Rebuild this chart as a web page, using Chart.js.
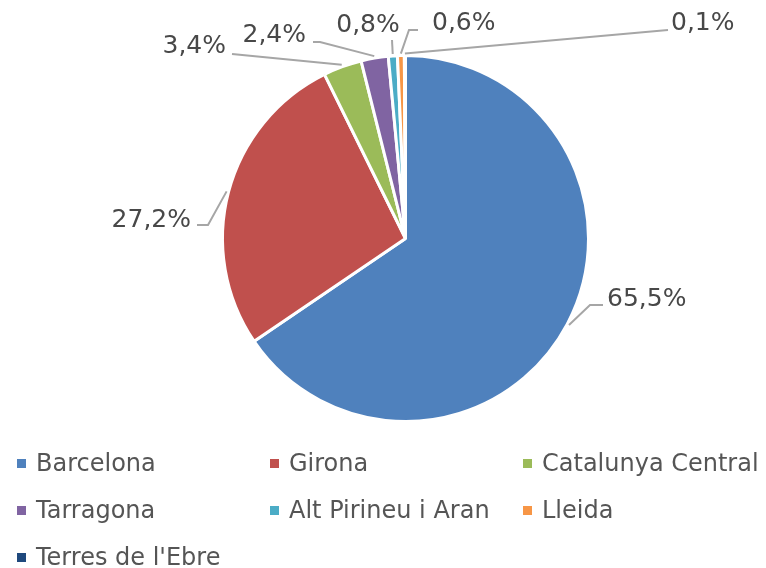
<!DOCTYPE html>
<html>
<head>
<meta charset="utf-8">
<script src="https://cdn.jsdelivr.net/npm/chart.js@4.4.1/dist/chart.umd.min.js"></script>
<style>
  html, body { margin: 0; padding: 0; background: #fff; }
  #wrap { position: relative; width: 766px; height: 568px; }
  #pie { position: absolute; left: 0; top: 0; }
  .legend-item {
    position: absolute; height: 30px; line-height: 30px;
    font: 24px "DejaVu Sans", Verdana, sans-serif; color: #555555;
    white-space: nowrap; display: flex; align-items: center;
  }
  .legend-item span.box { width: 9px; height: 9px; margin-right: 10px; display: inline-block; }
</style>
</head>
<body>
<div id="wrap">
  <canvas id="pie" width="766" height="568"></canvas>
  <div id="legend"></div>
</div>
<script>
const regions = ['Barcelona', 'Girona', 'Catalunya Central', 'Tarragona', 'Alt Pirineu i Aran', 'Lleida', "Terres de l'Ebre"];
const shares = [65.5, 27.2, 3.4, 2.4, 0.8, 0.6, 0.1];
const colors = ['#4F81BD', '#C0504D', '#9BBB59', '#8064A2', '#4BACC6', '#F79646', '#1F497D'];

// where each percentage label sits and the bend points of its leader line
const labelLayout = [
  {x: 607, y: 306, align: 'left',   path: [[590, 305], [603, 305]]},
  {x: 191, y: 227, align: 'right',  path: [[208, 225], [197, 225]]},
  {x: 226, y: 53,  align: 'right',  path: [[232, 54]]},
  {x: 306, y: 42,  align: 'right',  path: [[320, 42], [313, 42]]},
  {x: 368, y: 32,  align: 'center', path: [[392, 40]]},
  {x: 432, y: 30,  align: 'left',   path: [[409, 30], [418, 30]]},
  {x: 671, y: 30,  align: 'left',   path: [[668, 30]]}
];

function fmt(v){
  return v.toFixed(1).replace('.', ',') + '%';
}

const pieLabels = {
  id: 'pieLabels',
  afterDraw(chart){
    const ctx = chart.ctx;
    const arcs = chart.getDatasetMeta(0).data;
    ctx.save();
    ctx.strokeStyle = '#A6A6A6';
    ctx.lineWidth = 2;
    ctx.font = '25px "DejaVu Sans", Verdana, sans-serif';
    ctx.fillStyle = '#484848';
    ctx.textBaseline = 'alphabetic';
    arcs.forEach((arc, i) => {
      const lay = labelLayout[i];
      const mid = (arc.startAngle + arc.endAngle) / 2;
      const r = arc.outerRadius + 2;
      ctx.beginPath();
      ctx.moveTo(arc.x + Math.cos(mid) * r, arc.y + Math.sin(mid) * r);
      lay.path.forEach(p => ctx.lineTo(p[0], p[1]));
      ctx.stroke();
      ctx.textAlign = lay.align;
      ctx.fillText(fmt(shares[i]), lay.x, lay.y);
    });
    ctx.restore();
  }
};

new Chart(document.getElementById('pie'), {
  type: 'pie',
  data: {
    labels: regions,
    datasets: [{
      data: shares,
      backgroundColor: colors,
      borderColor: '#ffffff',
      borderWidth: 3
    }]
  },
  options: {
    responsive: false,
    animation: false,
    events: [],
    layout: {
      padding: {left: 221, right: 176, top: 54, bottom: 145}
    },
    plugins: {
      legend: {display: false},
      tooltip: {enabled: false}
    }
  },
  plugins: [pieLabels]
});

// legend: three columns, left aligned
const legend = document.getElementById('legend');
regions.forEach((name, i) => {
  const col = i % 3, row = Math.floor(i / 3);
  const div = document.createElement('div');
  div.className = 'legend-item';
  div.style.left = (17 + col * 253) + 'px';
  div.style.top = (463 + row * 47 - 15) + 'px';
  div.innerHTML = `<span class="box" style="background:${colors[i]}"></span>`;
  div.appendChild(document.createTextNode(name));
  legend.appendChild(div);
});
</script>
</body>
</html>
